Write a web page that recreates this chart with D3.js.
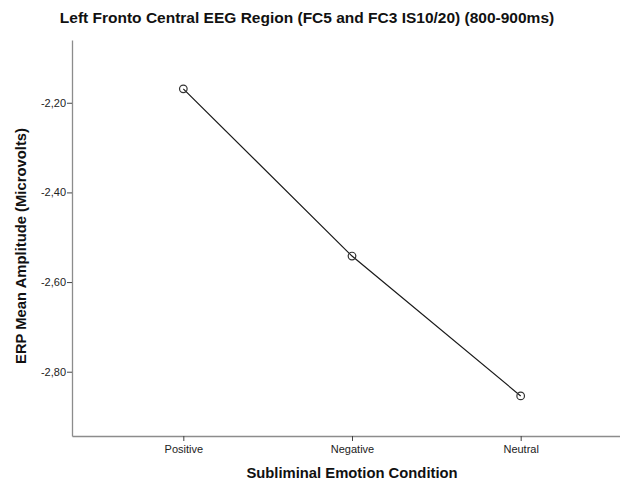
<!DOCTYPE html>
<html>
<head>
<meta charset="utf-8">
<script src="https://cdn.jsdelivr.net/npm/d3@7"></script>
<style>
body { margin: 0; background: #fff; }
svg text { font-family: "Liberation Sans", Arial, sans-serif; }
</style>
</head>
<body>
<svg id="chart" width="620" height="481"></svg>
<script>
var categories = ["Positive", "Negative", "Neutral"];
var amplitude = [-2.169, -2.542, -2.854];
var yTicks = [-2.2, -2.4, -2.6, -2.8];

var plotLeft = 72, plotRight = 632, plotTop = 40, plotBottom = 436;

var svg = d3.select("#chart");

var x = d3.scalePoint().domain(categories).range([plotLeft, plotRight]).padding(0.66);
var y = d3.scaleLinear().domain([-2.9434, -2.060]).range([plotBottom, plotTop]);

// SPSS style: comma decimal, plain hyphen for minus
var fmt = function (d) { return d.toFixed(2).replace(".", ","); };

// axes
var yAxis = svg.append("g").attr("transform", "translate(" + plotLeft + ",0)")
    .call(d3.axisLeft(y).tickValues(yTicks).tickFormat(fmt).tickSize(5).tickSizeOuter(0));
var xAxis = svg.append("g").attr("transform", "translate(0," + plotBottom + ")")
    .call(d3.axisBottom(x).tickSize(5).tickSizeOuter(0));

[yAxis, xAxis].forEach(function (a) {
    a.select(".domain").attr("stroke", "#8c8c8c").attr("stroke-width", 1.3);
    a.selectAll(".tick line").attr("stroke", "#444");
    a.selectAll(".tick text").attr("fill", "#222").style("font-size", "11px");
});
yAxis.selectAll(".tick text").attr("x", -6);
xAxis.selectAll(".tick text").attr("y", 9);

// line + markers
var line = d3.line()
    .x(function (d, i) { return x(categories[i]); })
    .y(function (d) { return y(d); });

svg.append("path").datum(amplitude)
    .attr("d", line).attr("fill", "none")
    .attr("stroke", "#1a1a1a").attr("stroke-width", 1.2);

svg.selectAll("circle.pt").data(amplitude).enter().append("circle")
    .attr("class", "pt")
    .attr("cx", function (d, i) { return x(categories[i]); })
    .attr("cy", function (d) { return y(d); })
    .attr("r", 3.8)
    .attr("fill", "none").attr("stroke", "#333").attr("stroke-width", 1.2);

// titles
svg.append("text").attr("x", 307).attr("y", 23).attr("text-anchor", "middle")
    .style("font-size", "15.5px").style("font-weight", "bold").attr("fill", "#111")
    .text("Left Fronto Central EEG Region (FC5 and FC3 IS10/20) (800-900ms)");

svg.append("text").attr("x", x("Negative")).attr("y", 478).attr("text-anchor", "middle")
    .style("font-size", "14.8px").style("font-weight", "bold").attr("fill", "#111")
    .text("Subliminal Emotion Condition");

svg.append("text")
    .attr("transform", "translate(26," + ((plotTop + plotBottom) / 2 + 8) + ") rotate(-90)")
    .attr("text-anchor", "middle")
    .style("font-size", "14.8px").style("font-weight", "bold").attr("fill", "#111")
    .text("ERP Mean Amplitude (Microvolts)");
</script>
</body>
</html>
